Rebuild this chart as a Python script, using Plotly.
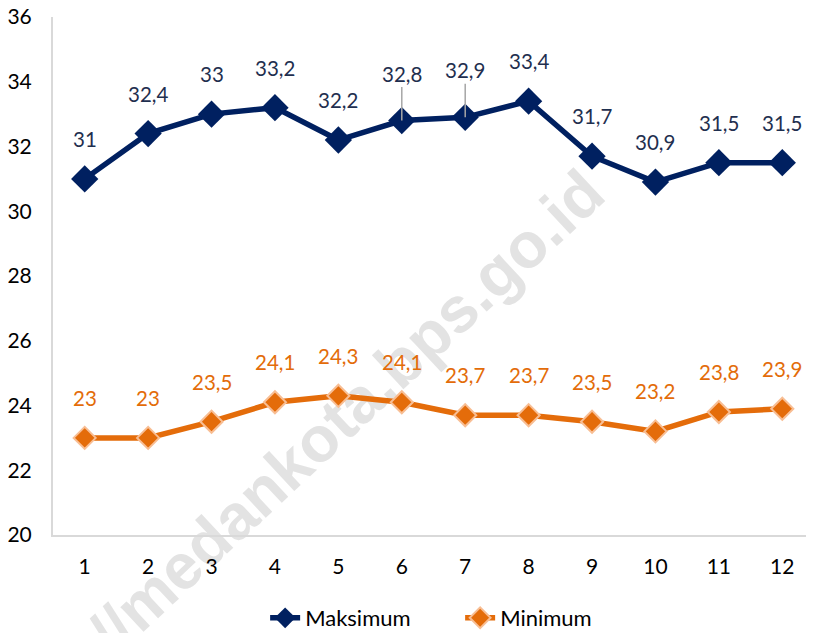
import plotly.graph_objects as go

months = [1, 2, 3, 4, 5, 6, 7, 8, 9, 10, 11, 12]
maksimum = [31, 32.4, 33, 33.2, 32.2, 32.8, 32.9, 33.4, 31.7, 30.9, 31.5, 31.5]
minimum = [23, 23, 23.5, 24.1, 24.3, 24.1, 23.7, 23.7, 23.5, 23.2, 23.8, 23.9]
y_ticks = [20, 22, 24, 26, 28, 30, 32, 34, 36]

NAVY = "#002060"
ORANGE = "#E46C0A"
FONT = "Lato"

def fmt(v):
    s = f"{v:g}"
    return s.replace(".", ",")

fig = go.Figure()
fig.add_trace(go.Scatter(
    x=months, y=maksimum, name="Maksimum", mode="lines+markers",
    line=dict(color=NAVY, width=5.5),
    marker=dict(symbol="diamond", size=21, color=NAVY, line=dict(width=0)),
))
fig.add_trace(go.Scatter(
    x=months, y=minimum, name="Minimum", mode="lines+markers",
    line=dict(color=ORANGE, width=5.5),
    marker=dict(symbol="diamond", size=17, color=ORANGE, line=dict(width=2, color="#F8BE94")),
))

annotations = []
leader = {6, 7}
LBL = 20.5
for m, v in zip(months, maksimum):
    if m in leader:
        annotations.append(dict(x=m, y=v, text=fmt(v), showarrow=True, arrowhead=0,
                                arrowwidth=1.5, arrowcolor="#A6A6A6", ax=0, ay=-47,
                                standoff=0, font=dict(family=FONT, size=LBL, color="#1F2F4F")))
    else:
        annotations.append(dict(x=m, y=v, text=fmt(v), showarrow=False, yshift=40,
                                font=dict(family=FONT, size=LBL, color="#1F2F4F")))
for m, v in zip(months, minimum):
    annotations.append(dict(x=m, y=v, text=fmt(v), showarrow=False, yshift=40,
                            font=dict(family=FONT, size=LBL, color="#E36C09")))

fig.update_layout(
    width=806, height=625,
    margin=dict(l=45, r=0, t=9, b=98, autoexpand=False),
    paper_bgcolor="white", plot_bgcolor="white",
    font=dict(family=FONT, size=18, color="#000000"),
    showlegend=True,
    legend=dict(orientation="h", x=0.535, xanchor="center", yref="container",
                y=0.024, yanchor="middle", entrywidth=150,
                font=dict(family=FONT, size=22, color="#000000")),
    xaxis=dict(range=[0.5, 12.5], tickmode="array", tickvals=months, automargin=False,
               ticktext=[str(m) for m in months], showgrid=False, zeroline=False,
               showline=True, linecolor="#D9D9D9", linewidth=2, ticks="",
               ticklabelstandoff=12, tickfont=dict(family=FONT, size=21, color="#000")),
    yaxis=dict(range=[20, 36], tickmode="array", tickvals=y_ticks, automargin=False,
               ticklabeloverflow="allow",
               ticktext=[str(t) for t in y_ticks], showgrid=False, zeroline=False,
               showline=True, linecolor="#D9D9D9", linewidth=2, ticks="",
               ticklabelstandoff=15, tickfont=dict(family=FONT, size=21, color="#000")),
    annotations=annotations,
    shapes=[dict(type="rect", xref="paper", yref="paper", x0=0.37, x1=0.39,
                 y0=0.235, y1=0.255, line=dict(width=0), fillcolor="rgba(0,0,0,0)",
                 layer="below",
                 label=dict(text="//medankota.bps.go.id", textangle=-43,
                            textposition="middle center",
                            font=dict(family="Liberation Sans", size=64, color="#E3E3E3",
                                      weight="bold")))],
)

fig.write_html("out.html")
